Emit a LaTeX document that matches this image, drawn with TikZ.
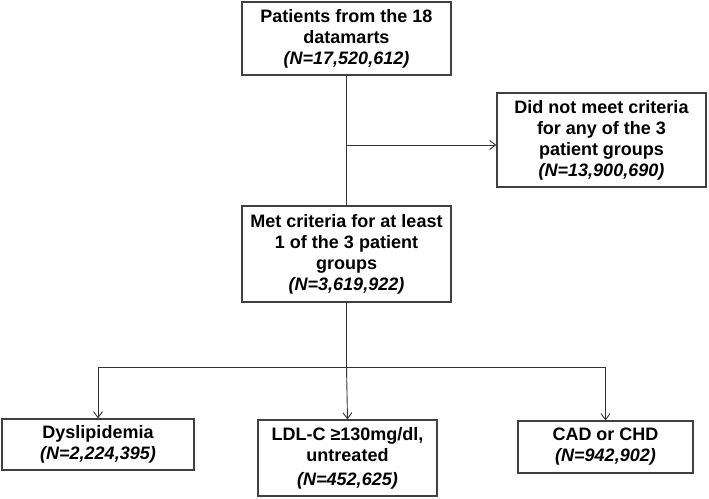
\documentclass[tikz,border=0pt]{standalone}
\usepackage{fontspec}
\setmainfont{Liberation Sans}
\usetikzlibrary{arrows.meta}

\begin{document}
\begin{tikzpicture}[x=1pt,y=-1pt,
    box/.style={rectangle,draw=black!75,line width=1.2pt,align=center,inner sep=0pt,
                font=\bfseries\fontsize{18}{21}\selectfont},
    conn/.style={draw=black!80,line width=0.9pt},
    arr/.style={conn,-{Straight Barb[length=6pt,width=9pt]}}]
    \useasboundingbox (0,0) rectangle (709,498);
    \node at (346.5,38.5) [box,minimum width=209pt,minimum height=73pt] (pat) {Patients from the 18\\datamarts\\\textit{(N=17,520,612)}};
    \node at (601.5,140) [box,minimum width=209pt,minimum height=94pt] (notmet) {Did not meet criteria\\for any of the 3\\patient groups\\\textit{(N=13,900,690)}};
    \node at (346.5,254) [box,minimum width=209pt,minimum height=96pt] (met) {Met criteria for at least\\1 of the 3 patient\\groups\\\textit{(N=3,619,922)}};
    \node at (98,444.5) [box,minimum width=192pt,minimum height=51pt] (dys) {Dyslipidemia\\\textit{(N=2,224,395)}};
    \node at (347.5,458) [box,minimum width=179pt,minimum height=76pt] (ldl) {LDL-C ≥130mg/dl,\\untreated\\[3pt]\textit{(N=452,625)}};
    \node at (605.5,447) [box,minimum width=175pt,minimum height=52pt] (cad) {CAD or CHD\\\textit{(N=942,902)}};
    \coordinate (split) at (346.5,145);
    \coordinate (bus) at (346.5,367);
    \draw[conn] (pat) -- (met);
    \draw[arr] (split) -- (notmet.west |- split);
    \draw[conn] (met) -- (bus);
    \draw[conn] (dys.north |- bus) -- (cad.north |- bus);
    \draw[arr] (dys.north |- bus) -- (dys.north);
    \draw[arr] (bus) -- (ldl.north);
    \draw[arr] (cad.north |- bus) -- (cad.north);
\end{tikzpicture}
\end{document}
